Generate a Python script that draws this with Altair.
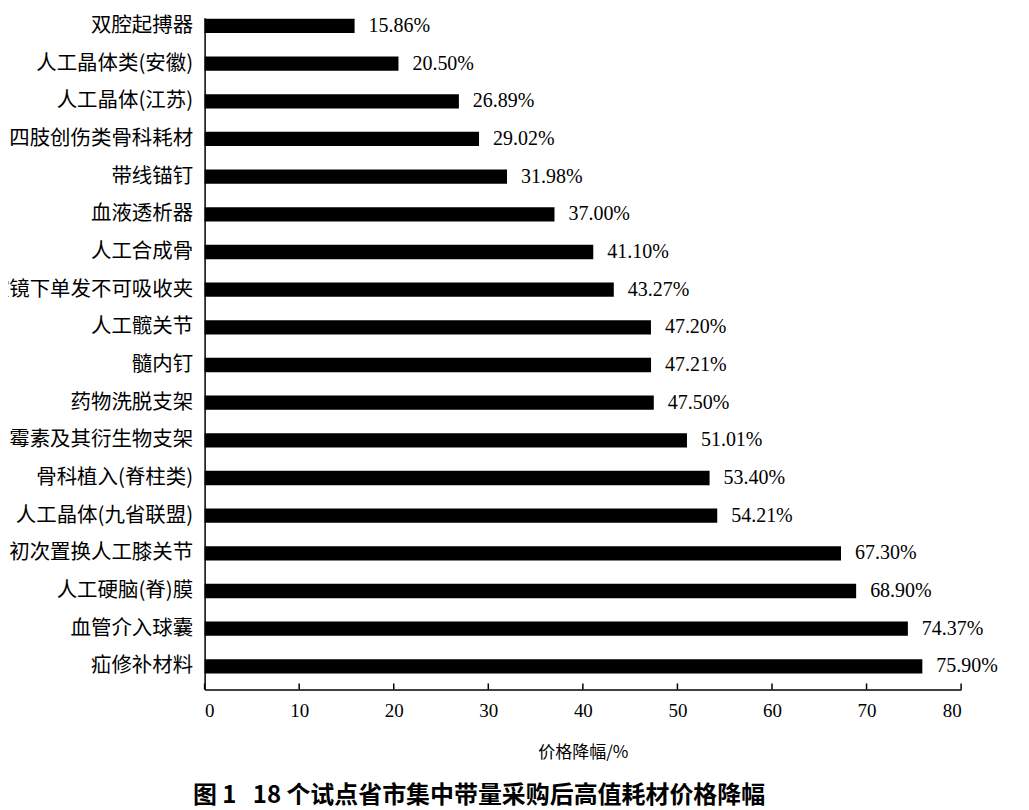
import altair as alt
import pandas as pd

categories = [
    "双腔起搏器", "人工晶体类(安徽)", "人工晶体(江苏)", "四肢创伤类骨科耗材",
    "带线锚钉", "血液透析器", "人工合成骨", "腔镜下单发不可吸收夹",
    "人工髋关节", "髓内钉", "药物洗脱支架", "雷帕霉素及其衍生物支架",
    "骨科植入(脊柱类)", "人工晶体(九省联盟)", "初次置换人工膝关节",
    "人工硬脑(脊)膜", "血管介入球囊", "疝修补材料",
]
values = [15.86, 20.50, 26.89, 29.02, 31.98, 37.00, 41.10, 43.27, 47.20,
          47.21, 47.50, 51.01, 53.40, 54.21, 67.30, 68.90, 74.37, 75.90]
tick_values = [0, 10, 20, 30, 40, 50, 60, 70, 80]

df = pd.DataFrame({
    "name": categories,
    "value": values,
    "label": [f"{v:.2f}%" for v in values],
})
ticks = pd.DataFrame({"t": tick_values})

W, H = 758, 673
CJK = "Noto Sans CJK SC"
SERIF = "Liberation Serif"

x_scale = alt.Scale(domain=[0, 80], nice=False, zero=True)
y_scale = alt.Scale(paddingInner=0.62, paddingOuter=0.225, align=0.06)

bars = alt.Chart(df).mark_bar(color="black").encode(
    x=alt.X("value:Q", scale=x_scale,
            axis=alt.Axis(values=tick_values, title="价格降幅/%", titleFont=CJK,
                          titleFontSize=17, titleFontWeight="normal",
                          titlePadding=24, labelFont=SERIF, labelFontSize=19,
                          labelPadding=12, tickSize=0, domainColor="black",
                          domainWidth=1.5, grid=False, labelColor="black",
                          titleColor="black")),
    y=alt.Y("name:N", sort=None, scale=y_scale,
            axis=alt.Axis(title=None, labelFont=CJK, labelFontSize=20.5,
                          labelPadding=12, ticks=False, domainColor="black",
                          domainWidth=1.5, labelColor="black", labelLimit=400)),
)

text = alt.Chart(df).mark_text(align="left", baseline="middle", dx=14,
                               font=SERIF, fontSize=20, color="black").encode(
    x=alt.X("value:Q", scale=x_scale),
    y=alt.Y("name:N", sort=None, scale=y_scale),
    text="label:N",
)

tick_marks = alt.Chart(ticks).mark_rule(color="black", strokeWidth=1.5).encode(
    x=alt.X("t:Q", scale=x_scale),
    y=alt.value(H - 6),
    y2=alt.value(H),
)

chart = alt.layer(bars, text, tick_marks).properties(
    width=W,
    height=H,
    background="white",
    autosize=alt.AutoSizeParams(type="none"),
    padding={"left": 197, "top": 9, "right": 60, "bottom": 120},
    title=alt.TitleParams(
        "图 1\u00a0\u00a0\u00a018 个试点省市集中带量采购后高值耗材价格降幅",
        orient="bottom", anchor="middle", dx=-104, offset=24,
        font=CJK, fontSize=24, fontWeight="bold", color="black",
    ),
).configure_view(strokeWidth=0, stroke="transparent")

chart.save("out.html", embed_options={"renderer": "svg", "actions": False})
